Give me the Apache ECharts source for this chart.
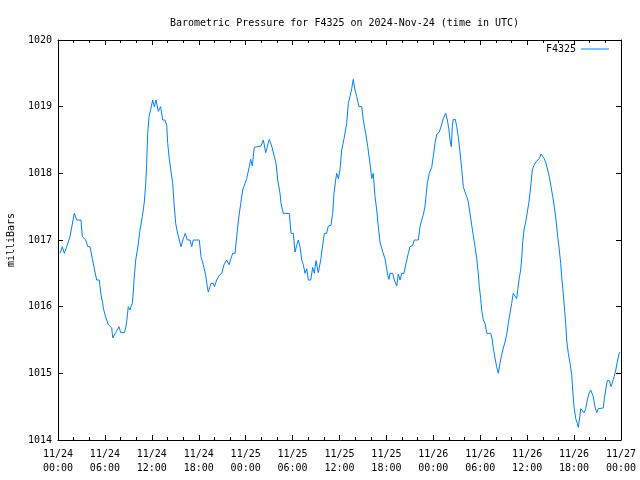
<!DOCTYPE html>
<html>
<head>
<meta charset="utf-8">
<script src="https://cdn.jsdelivr.net/npm/echarts@6/dist/echarts.min.js"></script>
<style>html,body{margin:0;padding:0;background:#fff}#c{width:640px;height:480px}</style>
</head>
<body>
<div id="c"></div>
<script>
const titleText = 'Barometric Pressure for F4325 on 2024-Nov-24 (time in UTC)';
const seriesName = 'F4325';
const yAxisName = 'milliBars';
const xTickLabels = ['11/24\n00:00','11/24\n06:00','11/24\n12:00','11/24\n18:00','11/25\n00:00','11/25\n06:00','11/25\n12:00','11/25\n18:00','11/26\n00:00','11/26\n06:00','11/26\n12:00','11/26\n18:00','11/27\n00:00'];
// hours since 2024-11-24 00:00 UTC
const hours = [0.26,0.55,0.81,1.11,1.53,1.88,2.08,2.39,2.94,3.11,3.54,3.80,4.09,4.39,4.64,4.95,5.28,5.50,5.72,5.79,6.01,6.23,6.43,6.65,6.87,7.00,7.16,7.38,7.63,7.80,8.02,8.48,8.66,8.79,8.99,9.21,9.34,9.50,9.63,9.72,9.94,10.19,10.49,10.78,11.04,11.22,11.34,11.47,11.64,11.86,12.11,12.32,12.53,12.83,13.13,13.39,13.68,13.90,14.03,14.23,14.45,14.67,14.84,15.05,15.26,15.51,15.73,16.02,16.28,16.54,16.88,17.10,17.30,18.07,18.29,18.58,18.89,19.09,19.22,19.57,19.86,20.01,20.30,20.63,20.94,21.23,21.57,21.87,22.12,22.34,22.64,22.85,23.11,23.37,23.62,23.92,24.13,24.46,24.64,24.85,25.10,25.96,26.26,26.56,27.02,27.33,27.53,27.88,28.10,28.39,28.52,28.81,29.58,29.80,30.09,30.31,30.53,30.73,30.95,31.17,31.37,31.59,31.81,32.01,32.32,32.57,32.78,32.99,33.29,33.60,33.80,34.06,34.36,34.57,34.91,35.13,35.30,35.51,35.64,35.85,36.06,36.28,36.58,36.92,37.13,37.34,37.56,37.76,37.98,38.20,38.49,38.84,39.04,39.35,39.61,39.90,40.12,40.32,40.54,40.76,40.96,41.18,41.53,41.82,42.04,42.17,42.33,42.46,42.80,43.01,43.32,43.52,43.74,43.96,44.25,44.50,44.80,45.02,45.36,45.57,46.08,46.30,46.51,46.72,46.93,47.06,47.23,47.48,47.79,47.99,48.21,48.43,48.76,48.98,49.27,49.58,49.79,50.00,50.13,50.30,50.43,50.55,50.81,50.99,51.19,51.41,51.63,51.83,52.05,52.27,52.47,52.69,52.91,53.11,53.33,53.55,53.75,53.88,54.06,54.19,54.39,54.61,54.83,55.34,55.54,55.67,55.89,56.10,56.31,56.52,56.74,56.95,57.17,57.38,57.59,57.80,58.02,58.22,58.44,58.66,58.79,58.99,59.17,59.30,59.43,59.59,59.81,60.02,60.23,60.36,60.49,60.66,60.87,61.09,61.30,61.55,61.77,61.99,62.19,62.41,62.63,62.83,63.05,63.27,63.47,63.69,63.91,64.11,64.29,64.45,64.62,64.75,64.93,65.05,65.26,65.48,65.70,65.82,65.99,66.21,66.41,66.54,66.67,66.85,67.05,67.27,67.49,67.69,67.91,68.12,68.33,68.46,68.67,68.89,69.10,69.31,69.74,69.87,70.04,70.25,70.51,70.73,70.95,71.12,71.33,71.54,71.76,71.88];
const pressure = [1016.8,1016.9,1016.8,1016.9,1017.05,1017.27,1017.4,1017.3,1017.3,1017.05,1017.0,1016.9,1016.9,1016.72,1016.57,1016.4,1016.4,1016.18,1016.05,1015.98,1015.88,1015.8,1015.73,1015.7,1015.68,1015.53,1015.56,1015.61,1015.62,1015.7,1015.61,1015.61,1015.68,1015.78,1016.0,1015.95,1016.0,1016.05,1016.22,1016.4,1016.7,1016.88,1017.15,1017.35,1017.57,1017.85,1018.15,1018.6,1018.85,1018.96,1019.1,1019.0,1019.1,1018.93,1019.0,1018.8,1018.8,1018.72,1018.45,1018.22,1018.03,1017.85,1017.55,1017.25,1017.12,1017.0,1016.9,1017.02,1017.1,1017.0,1017.0,1016.9,1017.0,1017.0,1016.75,1016.63,1016.47,1016.3,1016.22,1016.35,1016.35,1016.3,1016.4,1016.47,1016.5,1016.63,1016.7,1016.63,1016.72,1016.8,1016.8,1017.05,1017.33,1017.55,1017.75,1017.85,1017.92,1018.1,1018.21,1018.11,1018.39,1018.41,1018.5,1018.31,1018.51,1018.41,1018.4,1018.15,1017.9,1017.7,1017.55,1017.4,1017.4,1017.1,1017.1,1016.82,1016.92,1017.0,1016.9,1016.7,1016.63,1016.5,1016.57,1016.4,1016.4,1016.59,1016.5,1016.69,1016.51,1016.7,1016.88,1017.1,1017.1,1017.21,1017.22,1017.4,1017.7,1017.9,1018.0,1017.92,1018.05,1018.35,1018.52,1018.75,1019.05,1019.15,1019.27,1019.41,1019.25,1019.15,1019.0,1019.0,1018.8,1018.6,1018.4,1018.15,1017.92,1018.0,1017.65,1017.45,1017.2,1016.97,1016.82,1016.72,1016.7,1016.47,1016.41,1016.5,1016.5,1016.4,1016.31,1016.49,1016.4,1016.5,1016.5,1016.65,1016.8,1016.9,1016.92,1017.0,1017.0,1017.2,1017.3,1017.38,1017.5,1017.65,1017.85,1018.0,1018.09,1018.25,1018.45,1018.58,1018.62,1018.7,1018.82,1018.9,1018.8,1018.65,1018.5,1018.4,1018.7,1018.81,1018.81,1018.7,1018.55,1018.32,1018.07,1017.8,1017.72,1017.65,1017.57,1017.4,1017.22,1017.07,1016.9,1016.72,1016.5,1016.3,1016.12,1015.94,1015.8,1015.75,1015.6,1015.6,1015.5,1015.38,1015.23,1015.1,1015.0,1015.15,1015.28,1015.38,1015.47,1015.58,1015.75,1015.9,1016.05,1016.2,1016.2,1016.12,1016.25,1016.43,1016.55,1016.72,1016.97,1017.15,1017.27,1017.42,1017.57,1017.7,1017.85,1018.05,1018.12,1018.17,1018.2,1018.22,1018.29,1018.29,1018.22,1018.15,1018.05,1017.95,1017.8,1017.65,1017.5,1017.3,1017.05,1016.85,1016.65,1016.4,1016.2,1016.0,1015.75,1015.5,1015.3,1015.15,1014.97,1014.75,1014.5,1014.32,1014.25,1014.19,1014.3,1014.47,1014.44,1014.41,1014.47,1014.6,1014.7,1014.75,1014.78,1014.65,1014.5,1014.41,1014.47,1014.48,1014.48,1014.62,1014.75,1014.89,1014.89,1014.8,1014.88,1014.95,1015.05,1015.18,1015.3,1015.32];

const FONT = 'DejaVu Sans Mono';
const data = hours.map((h, i) => [h, pressure[i]]);
const chart = echarts.init(document.getElementById('c'), null, {renderer: 'canvas'});
const tickStyle = {show: true, inside: true, length: 5, lineStyle: {color: '#000', width: 1}};
const minorStyle = {show: true, splitNumber: 3, length: 3, lineStyle: {color: '#000', width: 1}};
chart.setOption({
  animation: false,
  backgroundColor: '#fff',
  title: {
    text: titleText, left: 339.5, top: 13, textAlign: 'center',
    textStyle: {fontFamily: FONT, fontSize: 10, fontWeight: 'normal', color: '#000'}
  },
  legend: {
    show: true, orient: 'horizontal',
    right: 26, top: 39, bottom: 'auto', left: 'auto', align: 'right',
    itemWidth: 28, itemHeight: 1, itemGap: 6, icon: 'rect',
    data: [{name: seriesName}],
    textStyle: {fontFamily: FONT, fontSize: 10, color: '#000'}
  },
  grid: {left: 58, right: 19, top: 40, bottom: 40, containLabel: false, outerBoundsMode: 'none'},
  xAxis: [{
    type: 'value', min: 0, max: 72, interval: 6, position: 'bottom',
    axisLine: {show: true, onZero: false, lineStyle: {color: '#000', width: 1}},
    axisTick: tickStyle,
    minorTick: minorStyle,
    splitLine: {show: false},
    axisLabel: {
      fontFamily: FONT, fontSize: 10, color: '#000', margin: 7, lineHeight: 14,
      formatter: v => xTickLabels[Math.round(v / 6)]
    }
  }, {
    type: 'value', min: 0, max: 72, interval: 6, position: 'top',
    axisLine: {show: true, onZero: false, lineStyle: {color: '#000', width: 1}},
    axisTick: tickStyle,
    minorTick: minorStyle,
    splitLine: {show: false},
    axisLabel: {show: false}
  }],
  yAxis: [{
    type: 'value', min: 1014, max: 1020, interval: 1, position: 'left',
    name: yAxisName, nameLocation: 'middle', nameGap: 42, nameRotate: 90,
    nameTextStyle: {fontFamily: FONT, fontSize: 10, color: '#000'},
    axisLine: {show: true, onZero: false, lineStyle: {color: '#000', width: 1}},
    axisTick: tickStyle,
    splitLine: {show: false},
    axisLabel: {fontFamily: FONT, fontSize: 10, color: '#000', margin: 6, formatter: v => String(v)}
  }, {
    type: 'value', min: 1014, max: 1020, interval: 1, position: 'right',
    axisLine: {show: true, onZero: false, lineStyle: {color: '#000', width: 1}},
    axisTick: tickStyle,
    splitLine: {show: false},
    axisLabel: {show: false}
  }],
  series: [{
    name: seriesName, type: 'line', data: data, xAxisIndex: 0, yAxisIndex: 0,
    showSymbol: false, symbol: 'none',
    lineStyle: {color: '#0080ff', width: 1},
    itemStyle: {color: '#0080ff'}
  }]
});
</script>
</body>
</html>
